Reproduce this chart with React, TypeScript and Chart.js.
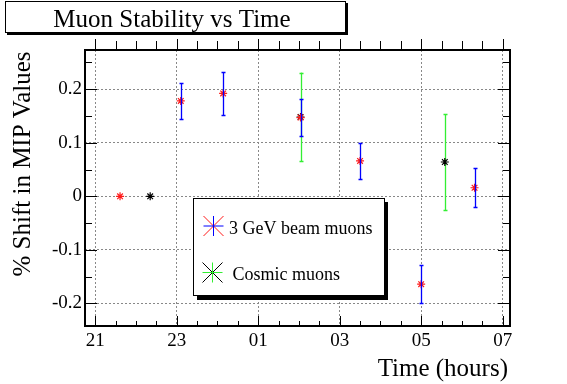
import React, { useEffect, useRef } from 'react';
import { Chart, registerables } from 'chart.js';

Chart.register(...registerables);

const FONT = '"Liberation Serif", "DejaVu Serif", serif';

// Data (time in hours, continuing past midnight: 25 = 01h, 27 = 03h ...)
const beamTime = [21.61, 23.1, 24.14, 26.04, 27.5, 29.0, 30.31];
const beamShift = [0, 0.178, 0.192, 0.147, 0.066, -0.164, 0.016];
const beamErr = [0, 0.034, 0.04, 0.035, 0.034, 0.035, 0.036];

const cosmicTime = [22.35, 26.04, 29.58];
const cosmicShift = [0, 0.148, 0.064];
const cosmicErr = [0, 0.083, 0.09];

const xTickValues = [21, 23, 25, 27, 29, 31];
const xTickLabels = ['21', '23', '01', '03', '05', '07'];
const yTickValues = [-0.2, -0.1, 0, 0.1, 0.2];
const yTickLabels = ['-0.2', '-0.1', '0', '0.1', '0.2'];

const xRange = [20.75, 31.18];
const yRange = [-0.242, 0.273];

const titleText = 'Muon Stability vs Time';
const xTitle = 'Time (hours)';
const yTitle = '% Shift in MIP Values';
const legendLabels = ['3 GeV beam muons', 'Cosmic muons'];

const RED = '#ff1a1a';
const BLUE = '#0000ff';
const GREEN = '#33ee33';
const BLACK = '#000000';

function drawErrorBars(chart: any, xs: number[], ys: number[], es: number[], color: string) {
  const ctx = chart.ctx;
  const xs_ = chart.scales.x;
  const ys_ = chart.scales.y;
  ctx.save();
  ctx.strokeStyle = color;
  ctx.lineWidth = 1.3;
  for (let i = 0; i < xs.length; i++) {
    if (!es[i]) continue;
    const px = Math.round(xs_.getPixelForValue(xs[i])) + 0.5;
    const top = ys_.getPixelForValue(ys[i] + es[i]);
    const bot = ys_.getPixelForValue(ys[i] - es[i]);
    ctx.beginPath();
    ctx.moveTo(px, top);
    ctx.lineTo(px, bot);
    ctx.moveTo(px - 2, Math.round(top) + 0.5);
    ctx.lineTo(px + 2, Math.round(top) + 0.5);
    ctx.moveTo(px - 2, Math.round(bot) + 0.5);
    ctx.lineTo(px + 2, Math.round(bot) + 0.5);
    ctx.stroke();
  }
  ctx.restore();
}

function drawStar(ctx: any, cx: number, cy: number, r: number, diagColor: string, crossColor: string) {
  ctx.save();
  ctx.lineWidth = 1;
  ctx.strokeStyle = diagColor;
  ctx.beginPath();
  ctx.moveTo(cx - r, cy - r);
  ctx.lineTo(cx + r, cy + r);
  ctx.moveTo(cx - r, cy + r);
  ctx.lineTo(cx + r, cy - r);
  ctx.stroke();
  ctx.strokeStyle = crossColor;
  ctx.beginPath();
  ctx.moveTo(cx - r, cy);
  ctx.lineTo(cx + r, cy);
  ctx.moveTo(cx, cy - r);
  ctx.lineTo(cx, cy + r);
  ctx.stroke();
  ctx.restore();
}

const decorPlugin = {
  id: 'decor',
  beforeDatasetsDraw(chart: any) {
    drawErrorBars(chart, cosmicTime, cosmicShift, cosmicErr, GREEN);
  },
  afterDatasetsDraw(chart: any) {
    drawErrorBars(chart, beamTime, beamShift, beamErr, BLUE);
  },
  afterDraw(chart: any) {
    const ctx = chart.ctx;
    const area = chart.chartArea;
    const sx = chart.scales.x;
    const sy = chart.scales.y;
    const L = area.left, R = area.right, T = area.top, B = area.bottom;

    ctx.save();
    // ticks
    ctx.strokeStyle = BLACK;
    ctx.lineWidth = 1;
    ctx.beginPath();
    for (let v = 21; v <= 31.001; v += 0.5) {
      const major = Math.abs(v - Math.round(v)) < 1e-6 && Math.round(v) % 2 === 1;
      const px = Math.round(sx.getPixelForValue(v)) + 0.5;
      ctx.moveTo(px, B);
      ctx.lineTo(px, B - (major ? 10 : 5));
      ctx.moveTo(px, T);
      ctx.lineTo(px, T - (major ? 11 : 9));
    }
    for (let k = -4; k <= 5; k++) {
      const v = k * 0.05;
      if (v < yRange[0] || v > yRange[1]) continue;
      const major = k % 2 === 0;
      const py = Math.round(sy.getPixelForValue(v)) + 0.5;
      ctx.moveTo(L, py);
      ctx.lineTo(L + (major ? 12 : 7), py);
      ctx.moveTo(R, py);
      ctx.lineTo(R - (major ? 12 : 7), py);
    }
    ctx.stroke();

    // frame
    ctx.lineWidth = 2;
    ctx.strokeRect(L, T, R - L, B - T);

    // axis titles
    ctx.fillStyle = BLACK;
    ctx.font = `25px ${FONT}`;
    ctx.textAlign = 'right';
    ctx.textBaseline = 'alphabetic';
    ctx.fillText(xTitle, R - 2, 376);

    ctx.save();
    ctx.translate(30, 164);
    ctx.rotate(-Math.PI / 2);
    ctx.textAlign = 'center';
    ctx.fillText(yTitle, 0, 0);
    ctx.restore();

    // title box
    ctx.fillStyle = BLACK;
    ctx.fillRect(7, 33, 341, 2);
    ctx.fillRect(346, 3, 2, 32);
    ctx.fillStyle = '#ffffff';
    ctx.fillRect(5, 1, 341, 32);
    ctx.strokeStyle = BLACK;
    ctx.lineWidth = 1;
    ctx.strokeRect(5.5, 1.5, 340, 31);
    ctx.fillStyle = BLACK;
    ctx.font = `25px ${FONT}`;
    ctx.textAlign = 'center';
    ctx.fillText(titleText, 172, 27);

    // legend box
    ctx.fillStyle = BLACK;
    ctx.fillRect(197, 296, 191, 4);
    ctx.fillRect(385, 202, 3, 98);
    ctx.fillStyle = '#ffffff';
    ctx.fillRect(193, 198, 192, 98);
    ctx.strokeStyle = BLACK;
    ctx.strokeRect(193.5, 198.5, 191, 97);

    drawStar(ctx, 213.5, 226, 10, RED, BLUE);
    drawStar(ctx, 212.5, 272.5, 10, BLACK, GREEN);
    ctx.fillStyle = BLACK;
    ctx.font = `18px ${FONT}`;
    ctx.textAlign = 'left';
    ctx.fillText(legendLabels[0], 229, 233.5);
    ctx.fillText(legendLabels[1], 232.5, 280);
    ctx.restore();
  },
};

export default function App() {
  const canvasRef = useRef<HTMLCanvasElement | null>(null);

  useEffect(() => {
    let chart: any = null;
    let cancelled = false;
    const build = () => {
      if (cancelled || !canvasRef.current) return;
      chart = new Chart(canvasRef.current, {
        type: 'scatter',
        data: {
          datasets: [
            {
              label: legendLabels[0],
              data: beamTime.map((t, i) => ({ x: t, y: beamShift[i] })),
              pointStyle: 'star',
              radius: 4,
              borderColor: RED,
              backgroundColor: RED,
              borderWidth: 1.2,
            },
            {
              label: legendLabels[1],
              data: cosmicTime.map((t, i) => ({ x: t, y: cosmicShift[i] })),
              pointStyle: 'star',
              radius: 4,
              borderColor: BLACK,
              backgroundColor: BLACK,
              borderWidth: 1.2,
            },
          ],
        },
        options: {
          responsive: false,
          animation: false,
          devicePixelRatio: 1,
          layout: { padding: { left: 0, top: 50, right: 57, bottom: 0 } },
          plugins: {
            legend: { display: false },
            title: { display: false },
            tooltip: { enabled: false },
          },
          scales: {
            x: {
              type: 'linear',
              min: xRange[0],
              max: xRange[1],
              afterBuildTicks: (scale: any) => {
                scale.ticks = xTickValues.map((v) => ({ value: v }));
              },
              afterFit: (scale: any) => {
                scale.height = 58;
              },
              ticks: {
                autoSkip: false,
                maxRotation: 0,
                padding: 4,
                color: BLACK,
                font: { family: FONT, size: 19 },
                callback: (value: any) => {
                  const i = xTickValues.indexOf(Number(value));
                  return i >= 0 ? xTickLabels[i] : '';
                },
              },
              grid: { color: '#888888', lineWidth: 1, drawTicks: false },
              border: { display: false, dash: [2, 2] },
            },
            y: {
              type: 'linear',
              min: yRange[0],
              max: yRange[1],
              afterBuildTicks: (scale: any) => {
                scale.ticks = yTickValues.map((v) => ({ value: v }));
              },
              afterFit: (scale: any) => {
                scale.width = 85;
              },
              ticks: {
                autoSkip: false,
                padding: 3,
                color: BLACK,
                font: { family: FONT, size: 19 },
                callback: (value: any) => {
                  const i = yTickValues.indexOf(Number(value));
                  return i >= 0 ? yTickLabels[i] : '';
                },
              },
              grid: { color: '#888888', lineWidth: 1, drawTicks: false },
              border: { display: false, dash: [2, 2] },
            },
          },
        },
        plugins: [decorPlugin],
      } as any);
    };
    const fontsApi: any = (document as any).fonts;
    if (fontsApi && fontsApi.load) {
      Promise.all([
        fontsApi.load('25px "Liberation Serif"'),
        fontsApi.load('18px "Liberation Serif"'),
      ])
        .catch(() => null)
        .then(build);
    } else {
      build();
    }
    return () => {
      cancelled = true;
      if (chart) chart.destroy();
    };
  }, []);

  return (
    <div style={{ position: 'fixed', left: 0, top: 0, width: 567, height: 384, background: '#ffffff' }}>
      <span style={{ position: 'absolute', left: -1000, top: 0, fontFamily: '"Liberation Serif"', fontSize: 25 }}>
        Aa
      </span>
      <canvas ref={canvasRef} width={567} height={384} style={{ display: 'block' }} />
    </div>
  );
}
